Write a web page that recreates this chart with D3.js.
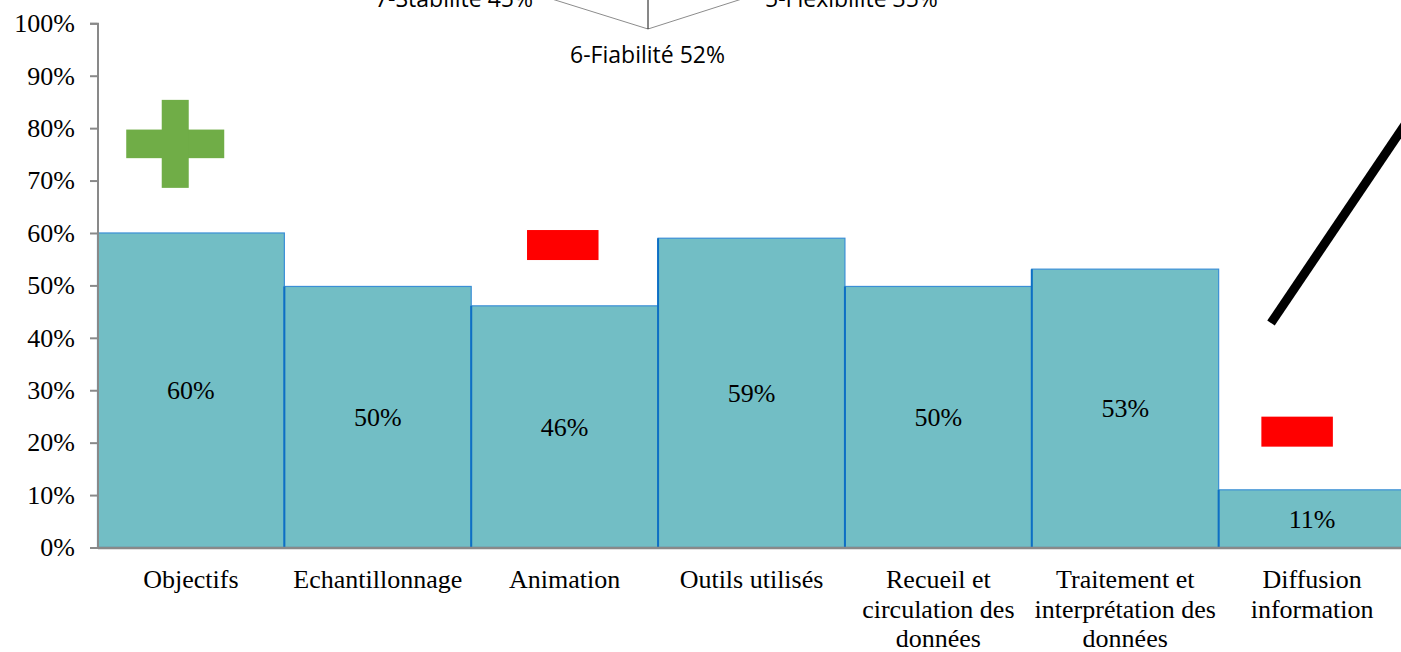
<!DOCTYPE html>
<html>
<head>
<meta charset="utf-8">
<script src="https://cdn.jsdelivr.net/npm/d3@7"></script>
<style>
  html, body { margin: 0; padding: 0; background: #fff; overflow: hidden; }
  svg { display: block; }
</style>
</head>
<body>
<div class="chart"></div>
<script>
var width = 1401,
    height = 652;

// data
const categories = ["Objectifs", "Echantillonnage", "Animation", "Outils utilisés",
  "Recueil et\ncirculation des\ndonnées", "Traitement et\ninterprétation des\ndonnées",
  "Diffusion\ninformation"];
const values = [0.60, 0.498, 0.461, 0.59, 0.498, 0.531, 0.11];
const yTicks = [0, 0.1, 0.2, 0.3, 0.4, 0.5, 0.6, 0.7, 0.8, 0.9, 1];

// fragments of the radar chart cut off above
const radarLabels = ["7-Stabilité 45%", "6-Fiabilité 52%", "5-Flexibilité 35%"];

// +/- marks: category, position inside the band (0..1), value of centre
const plusMarks = [{ cat: "Objectifs", pos: 0.416, v: 0.77 }];
const minusMarks = [
    { cat: "Animation", pos: 0.49, v: 0.577 },
    { cat: "Diffusion\ninformation", pos: 0.42, v: 0.221 }
];

let data = categories.map(function(c, i){
    return { name: c, value: values[i] };
});

let svg = d3.select(".chart")
    .append("svg")
    .attr("width", width)
    .attr("height", height);

let x = d3.scaleBand()
    .domain(categories)
    .range([97.5, 1405.5])
    .padding(0);

let y = d3.scaleLinear()
    .domain([0, 1])
    .range([547.5, 23.3]);

let serif = "'Liberation Serif', 'Times New Roman', serif";

// bars
let bars = svg.append("g");

bars.selectAll("rect")
    .data(data)
    .join("rect")
    .attr("x", d => x(d.name))
    .attr("y", d => y(d.value))
    .attr("width", x.bandwidth())
    .attr("height", d => y(0) - y(d.value))
    .attr("fill", "#72bec5")
    .attr("stroke", "#3b8fd6")
    .attr("stroke-width", 1.2);

bars.selectAll("line")
    .data(data.slice(1))
    .join("line")
    .attr("x1", d => x(d.name))
    .attr("x2", d => x(d.name))
    .attr("y1", d => y(d.value))
    .attr("y2", y(0))
    .attr("stroke", "#0d6fc4")
    .attr("stroke-width", 2);

bars.selectAll("text")
    .data(data)
    .join("text")
    .attr("x", d => x(d.name) + x.bandwidth() / 2)
    .attr("y", d => (y(d.value) + y(0)) / 2)
    .attr("dy", "0.35em")
    .attr("text-anchor", "middle")
    .style("font-family", serif)
    .style("font-size", "26px")
    .attr("fill", "#000")
    .text(d => Math.round(d.value * 100) + "%");

// y axis
let yAxis = svg.append("g")
    .attr("transform", `translate(${x.range()[0]},0)`)
    .call(d3.axisLeft(y).tickValues(yTicks).tickFormat(d3.format(".0%")).tickSize(7.5).tickPadding(15));

yAxis.selectAll("line, path").attr("stroke", "#898989").attr("stroke-width", 2);
yAxis.selectAll("text")
    .style("font-family", serif)
    .style("font-size", "26px")
    .attr("fill", "#000");

// x baseline
let xAxis = svg.append("g")
    .attr("transform", `translate(0,${y(0)})`)
    .call(d3.axisBottom(x).tickSize(0).tickPadding(0).tickFormat(""));

xAxis.select("path").attr("stroke", "#898989").attr("stroke-width", 2.5);

let catLabels = svg.append("g")
    .selectAll("text")
    .data(categories)
    .join("text")
    .attr("x", d => x(d) + x.bandwidth() / 2)
    .attr("y", 588)
    .attr("text-anchor", "middle")
    .style("font-family", serif)
    .style("font-size", "26px")
    .attr("fill", "#000");

catLabels.selectAll("tspan")
    .data(d => d.split("\n"))
    .join("tspan")
    .attr("x", function(){ return d3.select(this.parentNode).attr("x"); })
    .attr("dy", (d, i) => i === 0 ? 0 : 29.5)
    .text(d => d);

// green plus
let plus = svg.append("g");
plusMarks.forEach(function(m){
    let cx = x(m.cat) + m.pos * x.bandwidth(), cy = y(m.v);
    plus.append("rect").attr("x", cx - 49).attr("y", cy - 14.3).attr("width", 98).attr("height", 28.6).attr("fill", "#70ad47");
    plus.append("rect").attr("x", cx - 13.5).attr("y", cy - 44).attr("width", 27).attr("height", 88).attr("fill", "#70ad47");
});

// red minus
svg.append("g")
    .selectAll("rect")
    .data(minusMarks)
    .join("rect")
    .attr("x", d => x(d.cat) + d.pos * x.bandwidth() - 35.75)
    .attr("y", d => y(d.v) - 15)
    .attr("width", 71.5)
    .attr("height", 30)
    .attr("fill", "#ff0000");

// black pointer line
svg.append("line")
    .attr("x1", 1271)
    .attr("y1", 323)
    .attr("x2", 1425)
    .attr("y2", 95)
    .attr("stroke", "#000")
    .attr("stroke-width", 9);

// radar fragment at top
let radar = svg.append("g");
radar.append("path")
    .attr("d", "M523,-10L648,29L770,-10")
    .attr("fill", "none")
    .attr("stroke", "#8c8c8c")
    .attr("stroke-width", 1);
radar.append("line")
    .attr("x1", 648).attr("x2", 648)
    .attr("y1", -5).attr("y2", 29)
    .attr("stroke", "#111")
    .attr("stroke-width", 1);

let sans = "'Open Sans', 'Noto Sans', sans-serif";
radar.selectAll("text")
    .data(radarLabels)
    .join("text")
    .attr("x", (d, i) => [533, 647.5, 765][i])
    .attr("y", (d, i) => [7, 63, 7][i])
    .attr("text-anchor", (d, i) => ["end", "middle", "start"][i])
    .style("font-family", sans)
    .style("font-size", "23px")
    .attr("fill", "#000")
    .text(d => d);
</script>
</body>
</html>
